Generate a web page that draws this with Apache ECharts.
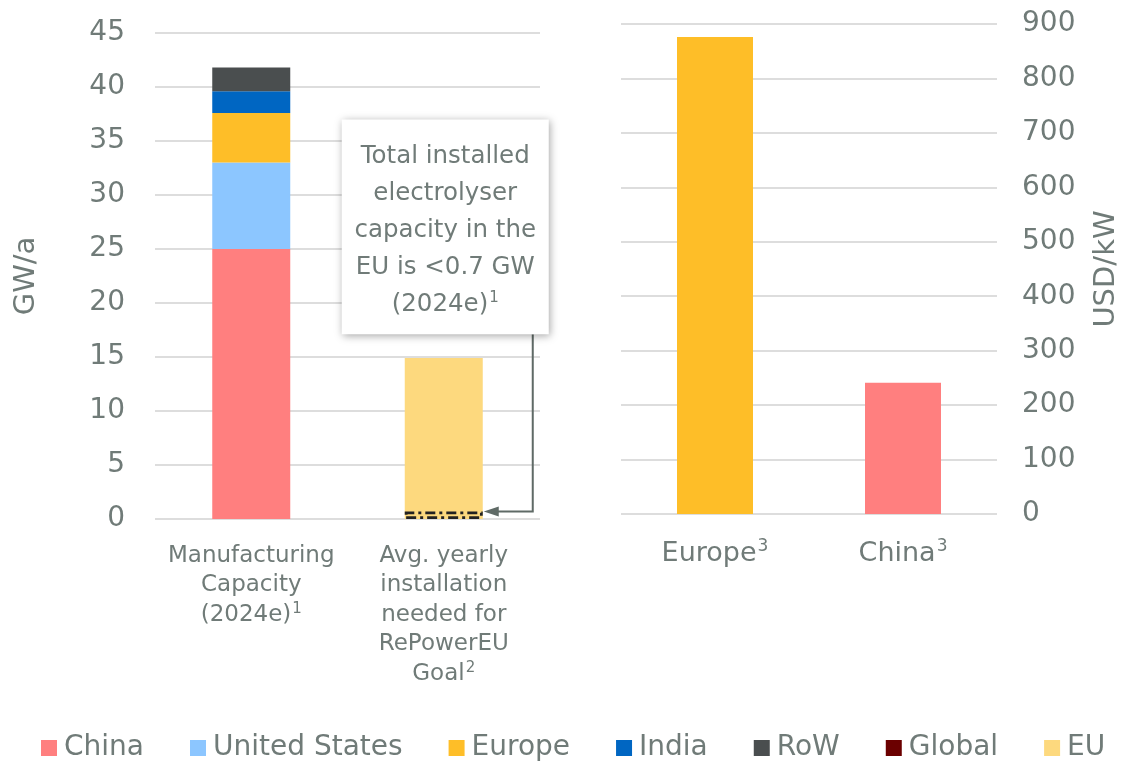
<!DOCTYPE html>
<html><head><meta charset="utf-8">
<script src="https://cdn.jsdelivr.net/npm/echarts@6/dist/echarts.min.js"></script>
<style>html,body{margin:0;padding:0;background:#fff}#c{width:1122px;height:762px}</style>
</head><body><div id="c"></div>
<script>
// ---- data ----
const capCategories = ['Manufacturing\nCapacity\n(2024e)', 'Avg. yearly\ninstallation\nneeded for\nRePowerEU\nGoal'];
const capSup = ['1', '2'];
const capChina = [25, '-'];
const capUS = [8, '-'];
const capEurope = [4.6, '-'];
const capIndia = [2.0, '-'];
const capRoW = [2.2, '-'];
const capEU = ['-', 14.9];
const capEUInstalled = ['-', 0.7];
const costCategories = ['Europe', 'China'];
const costSup = ['3', '3'];
const costEurope = [876, '-'];
const costChina = ['-', 241];
const leftTicks = {min: 0, max: 45, interval: 5};
const rightTicks = {min: 0, max: 900, interval: 100};
const annotationLines = ['Total installed', 'electrolyser', 'capacity in the', 'EU is <0.7 GW', '(2024e){sup|1}'];

const C = {China:'#FF7F7F', US:'#8CC6FF', Europe:'#FEBE28', India:'#0066C2', RoW:'#4A4E4F', Global:'#6B0000', EU:'#FDD97E'};
const TXT = '#707B78';
const FONT = 'DejaVu Sans';

const chart = echarts.init(document.getElementById('c'), null, {renderer:'canvas'});
const sup = {fontSize: 15, fontFamily: FONT, color: TXT, padding: [0,0,12,1]};

function barS(name, data, color, stack, xi, extra) {
  return Object.assign({name, type:'bar', data, stack, xAxisIndex: xi, yAxisIndex: xi,
    itemStyle:{color}, barWidth: xi === 0 ? 78 : 76, emphasis:{disabled:true}}, extra || {});
}

const option = {
  animation: false,
  textStyle: {fontFamily: FONT, color: TXT},
  legend: {
    bottom: -5, left: 36, itemWidth: 16, itemHeight: 16, itemGap: 46,
    icon: 'rect',
    textStyle: {fontSize: 28, color: TXT, fontFamily: FONT, padding:[0,0,0,2]},
    data: ['China','United States','Europe','India','RoW','Global','EU']
  },
  grid: [
    {left: 155, top: 33, width: 385, height: 486},
    {left: 621, top: 24, width: 379, height: 490}
  ],
  xAxis: [
    {type:'category', gridIndex:0, data: capCategories,
     axisLine:{show:false}, axisTick:{show:false},
     axisLabel:{interval:0, fontSize:23, color:TXT, lineHeight:29.5, margin:22, verticalAlign:'top',
       formatter:(v, i) => v + '{sup|' + capSup[i] + '}', rich:{sup}}},
    {type:'category', gridIndex:1, data: costCategories,
     axisLine:{show:false}, axisTick:{show:false},
     axisLabel:{interval:0, fontSize:27, color:TXT, margin:24,
       formatter:(v, i) => v + '{sup|' + costSup[i] + '}', rich:{sup:Object.assign({}, sup, {fontSize:17, padding:[0,0,15,1]})}}}
  ],
  yAxis: [
    {type:'value', gridIndex:0, min:leftTicks.min, max:leftTicks.max, interval:leftTicks.interval,
     name:'GW/a', nameLocation:'middle', nameGap:114, nameRotate:90,
     nameTextStyle:{fontSize:29, color:TXT},
     axisLabel:{fontSize:28, color:TXT, margin:30},
     splitLine:{lineStyle:{color:'#DDDDDD', width:2}}},
    {type:'value', gridIndex:1, position:'right', min:rightTicks.min, max:rightTicks.max, interval:rightTicks.interval,
     name:'USD/kW', nameLocation:'middle', nameGap:95, nameRotate:90,
     nameTextStyle:{fontSize:29, color:TXT},
     axisLabel:{fontSize:28, color:TXT, margin:25},
     splitLine:{lineStyle:{color:'#DDDDDD', width:2}}}
  ],
  series: [
    barS('China', capChina, C.China, 'cap', 0),
    barS('United States', capUS, C.US, 'cap', 0),
    barS('Europe', capEurope, C.Europe, 'cap', 0),
    barS('India', capIndia, C.India, 'cap', 0),
    barS('RoW', capRoW, C.RoW, 'cap', 0),
    barS('Global', [], C.Global, 'cap', 0),
    barS('EU', capEU, C.EU, 'cap', 0),
    barS('EU installed', capEUInstalled, 'rgba(0,0,0,0)', 'inst', 0, {
      barGap:'-100%', z: 5,
      itemStyle:{color:'rgba(0,0,0,0)', borderColor:'#222', borderWidth:2.8, borderType:[10,4,3,4]}}),
    barS('Europe', costEurope, C.Europe, 'cost', 1),
    barS('China', costChina, C.China, 'cost', 1)
  ]
};
chart.setOption(option);

// annotation box + arrow, anchored through the left axis scales
function annotate() {
  const cx = chart.convertToPixel({xAxisIndex:0}, capCategories[1]);
  const yTop = chart.convertToPixel({yAxisIndex:0}, 37.0);
  const yBot = chart.convertToPixel({yAxisIndex:0}, 17.1);
  const yInst = chart.convertToPixel({yAxisIndex:0}, capEUInstalled[1]);
  const boxW = 207;
  const x0 = cx - boxW / 2 + 1.5;
  const barRight = cx + 39;
  const lineX = x0 + boxW - 16;
  const lh = 37;
  const textTop = yTop + 19;
  chart.setOption({graphic: [
    {type:'polyline', z: 10, silent:true,
      shape:{points:[[lineX, yBot], [lineX, yInst], [barRight + 14, yInst]]},
      style:{stroke:'#5F6A66', lineWidth:2, fill:null}},
    {type:'polygon', z: 10, silent:true,
      shape:{points:[[barRight + 1, yInst], [barRight + 16, yInst - 5], [barRight + 16, yInst + 5]]},
      style:{fill:'#5F6A66'}},
    {type:'rect', z: 20, silent:true,
      shape:{x: x0, y: yTop, width: boxW, height: yBot - yTop},
      style:{fill:'#fff', shadowBlur:8, shadowColor:'rgba(0,0,0,0.35)', shadowOffsetX:1, shadowOffsetY:2}},
    {type:'text', z: 21, silent:true,
      x: x0 + boxW / 2, y: textTop,
      style:{text: annotationLines.join('\n'), fontSize:24.5, fontFamily:FONT, fill:TXT,
        align:'center', verticalAlign:'top', lineHeight: lh,
        rich:{sup:{fontSize:15, fontFamily:FONT, fill:TXT, padding:[0,0,13,1], lineHeight: lh}}}}
  ]});
}
annotate();
</script></body></html>
